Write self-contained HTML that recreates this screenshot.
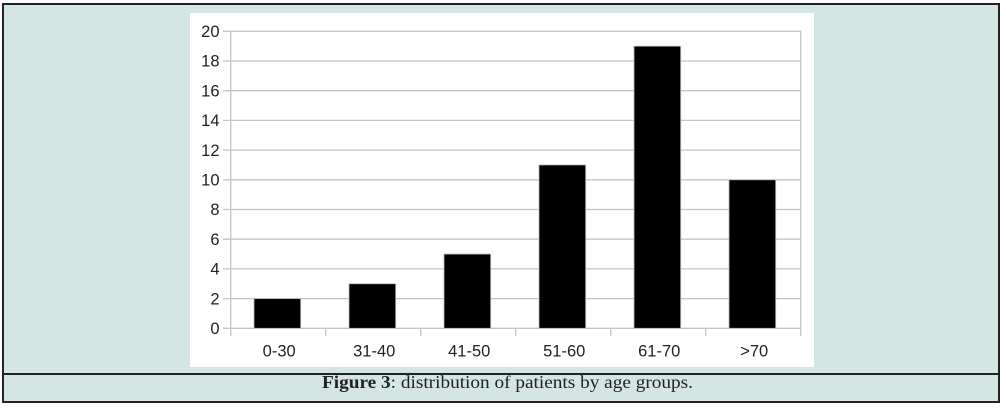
<!DOCTYPE html>
<html><head><meta charset="utf-8"><style>
html,body{margin:0;padding:0;background:#fff;}
body{width:1006px;height:406px;overflow:hidden;}
</style></head><body>
<svg width="1006" height="406" xmlns="http://www.w3.org/2000/svg">
<rect x="0" y="0" width="1006" height="406" fill="#ffffff"/>
<rect x="3" y="4" width="996" height="398" fill="#d3e6e4"/>
<rect x="190" y="13" width="624" height="354" fill="#ffffff"/>
<g stroke="#c4c4c4" stroke-width="1.3">
<line x1="223" y1="31.3" x2="801" y2="31.3"/>
<line x1="223" y1="61" x2="801" y2="61"/>
<line x1="223" y1="90.7" x2="801" y2="90.7"/>
<line x1="223" y1="120.4" x2="801" y2="120.4"/>
<line x1="223" y1="150.1" x2="801" y2="150.1"/>
<line x1="223" y1="179.8" x2="801" y2="179.8"/>
<line x1="223" y1="209.5" x2="801" y2="209.5"/>
<line x1="223" y1="239.2" x2="801" y2="239.2"/>
<line x1="223" y1="268.9" x2="801" y2="268.9"/>
<line x1="223" y1="298.6" x2="801" y2="298.6"/>
<line x1="223" y1="328.3" x2="801" y2="328.3"/>
<line x1="230.7" y1="31.3" x2="230.7" y2="336"/>
<line x1="325.7" y1="328.3" x2="325.7" y2="336"/>
<line x1="420.7" y1="328.3" x2="420.7" y2="336"/>
<line x1="515.7" y1="328.3" x2="515.7" y2="336"/>
<line x1="610.7" y1="328.3" x2="610.7" y2="336"/>
<line x1="705.7" y1="328.3" x2="705.7" y2="336"/>
<line x1="800.7" y1="31.3" x2="800.7" y2="336"/>
</g>
<g fill="#000" stroke="#bdbdbd" stroke-width="0.8">
<rect x="254" y="298.6" width="46.7" height="29.7"/>
<rect x="349" y="283.75" width="46.7" height="44.55"/>
<rect x="444" y="254.05" width="46.7" height="74.25"/>
<rect x="539" y="164.95" width="46.7" height="163.35"/>
<rect x="634" y="46.15" width="46.7" height="282.15"/>
<rect x="729" y="179.8" width="46.7" height="148.5"/>
</g>
<g font-family="Liberation Sans, Arial, sans-serif" font-size="16.5" fill="#222" text-anchor="end">
<text x="219.5" y="37">20</text>
<text x="219.5" y="66.7">18</text>
<text x="219.5" y="96.4">16</text>
<text x="219.5" y="126.1">14</text>
<text x="219.5" y="155.8">12</text>
<text x="219.5" y="185.5">10</text>
<text x="219.5" y="215.2">8</text>
<text x="219.5" y="244.9">6</text>
<text x="219.5" y="274.6">4</text>
<text x="219.5" y="304.3">2</text>
<text x="219.5" y="334">0</text>
</g>
<g font-family="Liberation Sans, Arial, sans-serif" font-size="16.5" fill="#222" text-anchor="middle">
<text x="279.2" y="356.5">0-30</text>
<text x="374.2" y="356.5">31-40</text>
<text x="469.2" y="356.5">41-50</text>
<text x="564.2" y="356.5">51-60</text>
<text x="659.2" y="356.5">61-70</text>
<text x="754.2" y="356.5">&gt;70</text>
</g>
<line x1="3" y1="374" x2="999" y2="374" stroke="#222" stroke-width="2"/>
<rect x="3" y="4" width="996" height="398" fill="none" stroke="#222" stroke-width="2"/>
<text x="322" y="388" font-family="Liberation Serif, Times New Roman, serif" font-size="17.5" fill="#222" textLength="371" lengthAdjust="spacingAndGlyphs"><tspan font-weight="bold">Figure 3</tspan>: distribution of patients by age groups.</text>
</svg>
</body></html>
